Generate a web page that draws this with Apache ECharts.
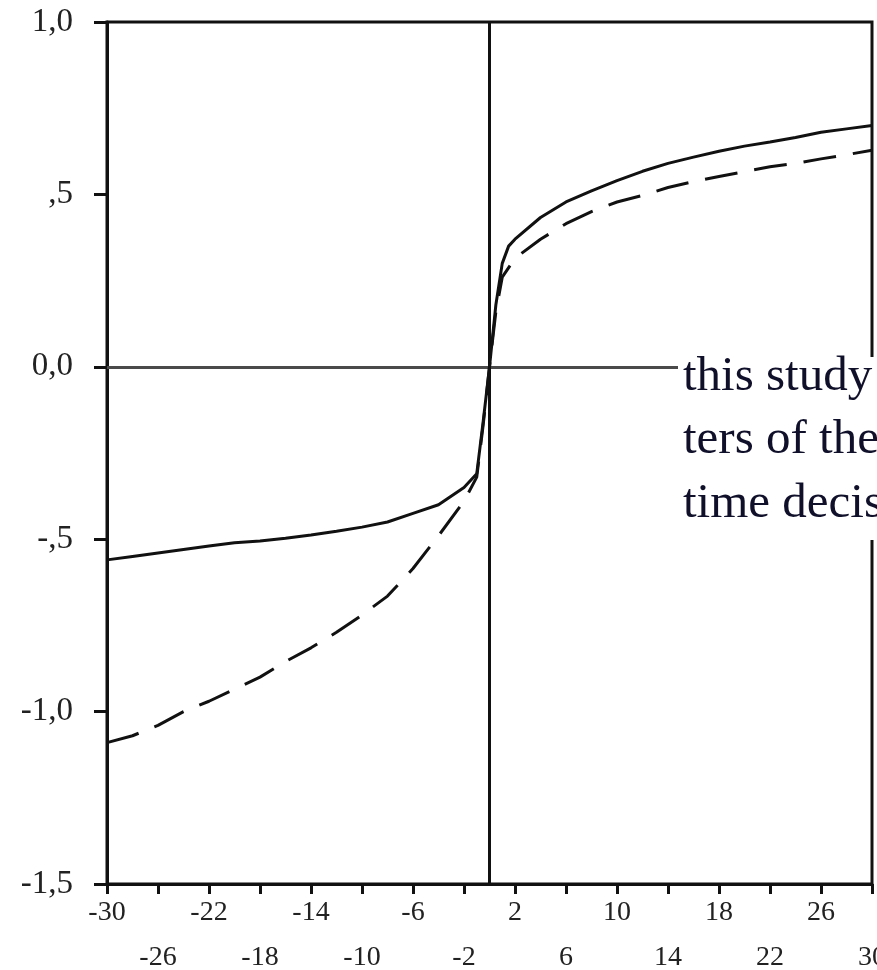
<!DOCTYPE html>
<html>
<head>
<meta charset="utf-8">
<script src="https://cdn.jsdelivr.net/npm/echarts@6/dist/echarts.min.js"></script>
<style>
  html, body { margin: 0; padding: 0; background: #fff; }
  #chart { width: 877px; height: 970px; }
</style>
</head>
<body>
<div id="chart"></div>
<script>
// x axis runs -30 .. 30, one tick every 4 units, labels alternate on two rows
var xMin = -30, xMax = 30, xStep = 4
var xLabels = ['-30', '-26', '-22', '-18', '-14', '-10', '-6', '-2', '2', '6', '10', '14', '18', '22', '26', '30']
var yMin = -1.5, yMax = 1.0, yStep = 0.5
var yLabels = ['-1,5', '-1,0', '-,5', '0,0', ',5', '1,0']

// solid curve
var solidX = [-30, -28, -26, -24, -22, -20, -18, -16, -14, -12, -10, -8, -6, -4, -2,
  -1, -0.5, 0, 0.5, 1, 1.5,
  2, 4, 6, 8, 10, 12, 14, 16, 18, 20, 22, 24, 26, 28, 30]
var solidY = [-0.56, -0.55, -0.54, -0.53, -0.52, -0.51, -0.505, -0.497, -0.488, -0.477, -0.465, -0.45, -0.425, -0.40, -0.35,
  -0.31, -0.16, 0, 0.18, 0.30, 0.35,
  0.37, 0.433, 0.478, 0.51, 0.54, 0.567, 0.59, 0.608, 0.625, 0.64, 0.652, 0.665, 0.68, 0.69, 0.70]

// dashed curve
var dashedX = [-30, -28, -26, -24, -22, -20, -18, -16, -14, -12, -10, -8, -6, -4, -2,
  -1, -0.5, 0, 0.5, 1, 2,
  4, 6, 8, 10, 12, 14, 16, 18, 20, 22, 24, 26, 28, 30]
var dashedY = [-1.09, -1.07, -1.04, -1.00, -0.97, -0.935, -0.90, -0.855, -0.815, -0.77, -0.72, -0.665, -0.585, -0.49, -0.39,
  -0.32, -0.17, 0, 0.16, 0.26, 0.315,
  0.37, 0.415, 0.45, 0.478, 0.497, 0.52, 0.537, 0.552, 0.566, 0.58, 0.59, 0.603, 0.615, 0.628]

// text fragment that sits over the right side of the plot
var noteLines = ['this study', 'ters of the', 'time decis']

// axis is drawn on 0..60 so ticks start exactly at -30
function toPairs(xs, ys) {
  return xs.map(function (x, i) { return [x - xMin, ys[i]] })
}

var chart = echarts.init(document.getElementById('chart'))
var serif = '"Liberation Serif", "Times New Roman", serif'

chart.setOption({
  animation: false,
  backgroundColor: '#fff',
  grid: {
    left: 107, right: 5, top: 22, bottom: 86,
    outerBoundsMode: 'none',
    containLabel: false,
    show: true,
    borderColor: '#111',
    borderWidth: 3
  },
  xAxis: {
    type: 'value',
    min: 0,
    max: xMax - xMin,
    interval: xStep,
    axisLine: { show: true, onZero: false, lineStyle: { color: '#111', width: 3 } },
    axisTick: { show: true, inside: false, length: 10, lineStyle: { color: '#111', width: 3 } },
    splitLine: { show: false },
    axisLabel: {
      margin: 6,
      color: '#222',
      fontFamily: serif,
      fontSize: 28,
      lineHeight: 45,
      showMinLabel: true,
      showMaxLabel: true,
      hideOverlap: false,
      formatter: function (v) {
        var i = Math.round(v / xStep)
        var t = xLabels[i]
        return i % 2 ? '\n' + t : t
      }
    }
  },
  yAxis: {
    type: 'value',
    min: yMin,
    max: yMax,
    interval: yStep,
    axisLine: { show: true, onZero: false, lineStyle: { color: '#111', width: 3 } },
    axisTick: { show: true, inside: false, length: 13, lineStyle: { color: '#111', width: 3 } },
    splitLine: { show: false },
    axisLabel: {
      margin: 34,
      color: '#222',
      fontFamily: serif,
      fontSize: 33,
      showMinLabel: true,
      showMaxLabel: true,
      formatter: function (v) {
        return yLabels[Math.round((v - yMin) / yStep)]
      }
    }
  },
  series: [
    {
      type: 'line',
      data: [],
      silent: true,
      markLine: {
        silent: true,
        symbol: 'none',
        label: { show: false },
        data: [
          { yAxis: 0, lineStyle: { color: '#4a4a4a', width: 3, type: 'solid' } },
          { xAxis: 0 - xMin, lineStyle: { color: '#111', width: 3, type: 'solid' } }
        ]
      }
    },
    {
      name: 'solid',
      type: 'line',
      showSymbol: false,
      symbol: 'none',
      data: toPairs(solidX, solidY),
      lineStyle: { color: '#111', width: 3, type: 'solid' },
      z: 5
    },
    {
      name: 'dashed',
      type: 'line',
      showSymbol: false,
      symbol: 'none',
      data: toPairs(dashedX, dashedY),
      lineStyle: { color: '#111', width: 3, type: [33, 17] },
      z: 5
    }
  ],
  graphic: [
    {
      type: 'rect',
      z: 100,
      shape: { x: 678, y: 357, width: 220, height: 183 },
      style: { fill: '#fff' }
    }
  ].concat(noteLines.map(function (t, i) {
    return {
      type: 'text',
      z: 101,
      x: 683,
      y: 377 + i * 63.5,
      style: {
        text: t,
        font: '49px ' + serif,
        fill: '#10102a',
        verticalAlign: 'middle'
      }
    }
  }))
})
</script>
</body>
</html>
